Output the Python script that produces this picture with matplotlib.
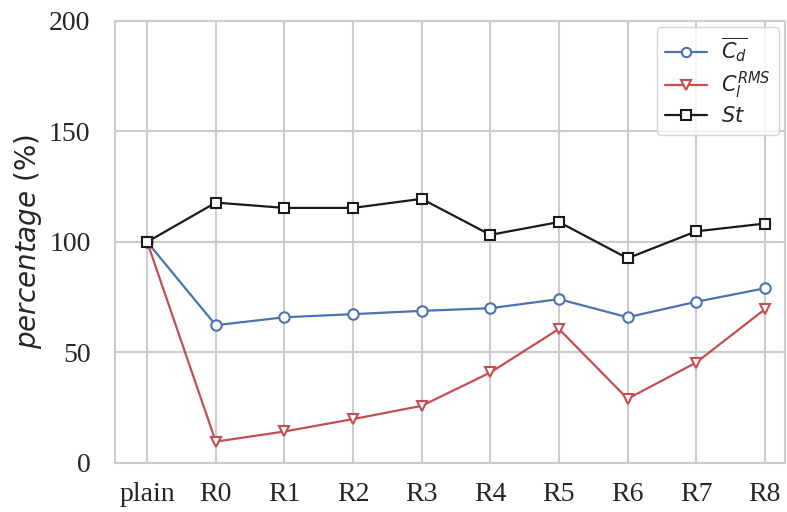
import matplotlib
matplotlib.use('Agg')
from matplotlib import pyplot as plt
import seaborn as sns
import numpy as np

sns.set_style('whitegrid')

cases = ['plain', 'R0', 'R1', 'R2', 'R3', 'R4', 'R5', 'R6', 'R7', 'R8']
cd = [100, 62.3, 65.9, 67.3, 68.8, 70.0, 74.1, 65.9, 72.9, 79.0]
cl_rms = [100, 9.6, 14.2, 19.8, 25.8, 40.9, 60.6, 29.0, 45.4, 69.5]
st = [100, 117.8, 115.4, 115.4, 119.5, 103.2, 109.0, 92.6, 104.8, 108.3]

fig = plt.figure(figsize=(7.87, 5.12), dpi=100)
ax = fig.add_axes([0.146, 0.096, 0.852, 0.863])

x = np.arange(len(cases))
ax.plot(x, cd, '-o', color='#4C72B0', mfc='white', mec='#4C72B0', ms=7.5,
        mew=1.5, lw=1.6, label=r'$\overline{C_d}$')
ax.plot(x, cl_rms, '-v', color='#C44E52', mfc='white', mec='#C44E52', ms=7.5,
        mew=1.5, lw=1.6, label=r'$C_l^{RMS}$')
ax.plot(x, st, '-s', color='#1a1a1a', mfc='white', mec='#1a1a1a', ms=7.5,
        mew=1.5, lw=1.6, label=r'$St$')

ax.set_xlim(-0.47, 9.3)
ax.set_ylim(0, 200)
ax.set_yticks([0, 50, 100, 150, 200])
ax.set_xticks(x)
ax.set_xticklabels(cases)
for lab in ax.get_xticklabels() + ax.get_yticklabels():
    lab.set_fontfamily('Liberation Serif')
    lab.set_fontsize(20)
ax.tick_params(axis='y', pad=14)
ax.tick_params(axis='x', pad=10)
ax.set_ylabel(r'$percentage$ (%)', fontsize=20, labelpad=4)

for s in ax.spines.values():
    s.set_color('#cccccc')
    s.set_linewidth(1.5)
ax.grid(color='#cccccc', lw=1.5)

leg = ax.legend(loc='upper right', fontsize=15, frameon=True,
                handlelength=2.0, handletextpad=0.7, labelspacing=0.25,
                borderaxespad=0.3, markerscale=0.9)
leg.get_frame().set_edgecolor('#cccccc')

fig.savefig('out.png', dpi=100)
